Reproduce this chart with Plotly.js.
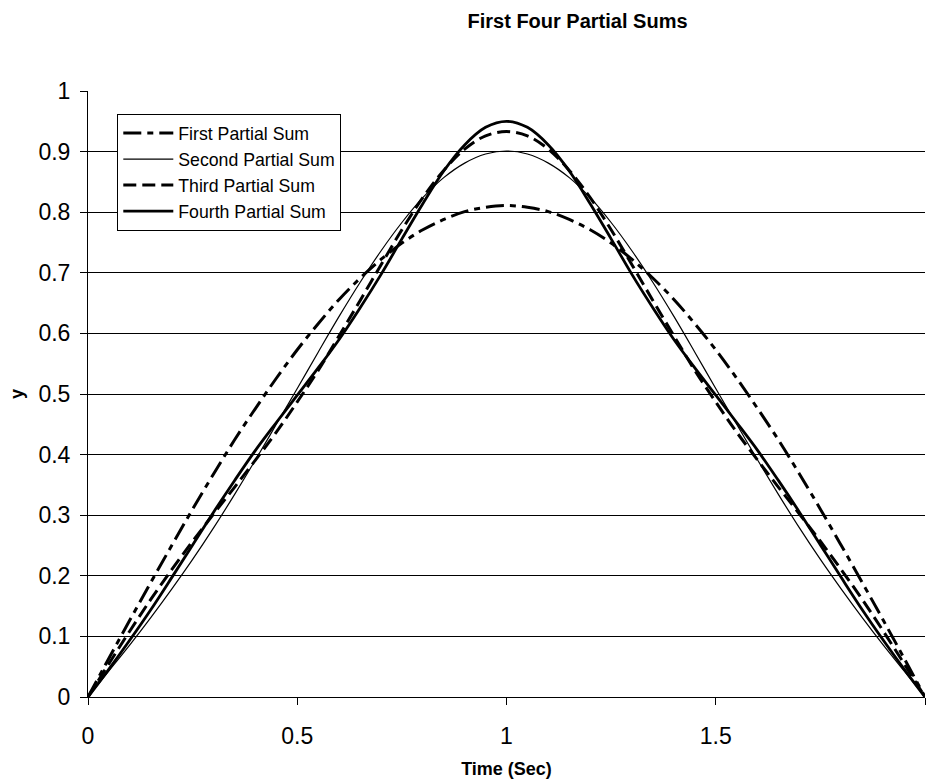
<!DOCTYPE html>
<html>
<head>
<meta charset="utf-8">
<script src="https://cdn.plot.ly/plotly-3.0.1.min.js"></script>
<style>html,body{margin:0;padding:0;background:#fff;}#chart{width:930px;height:780px;}</style>
</head>
<body>
<div id="chart"></div>
<script>
const time = [0,0.05,0.1,0.15,0.2,0.25,0.3,0.35,0.4,0.45,0.5,0.55,0.6,0.65,0.7,0.75,0.8,0.85,0.9,0.95,1,
  1.05,1.1,1.15,1.2,1.25,1.3,1.35,1.4,1.45,1.5,1.55,1.6,1.65,1.7,1.75,1.8,1.85,1.9,1.95,2];

const firstSum = [0,0.064,0.127,0.189,0.250,0.310,0.368,0.424,0.476,0.526,0.573,0.616,0.656,0.691,0.722,0.749,0.771,0.788,0.801,0.808,0.811,
  0.808,0.801,0.788,0.771,0.749,0.722,0.691,0.656,0.616,0.573,0.526,0.476,0.424,0.368,0.310,0.250,0.189,0.127,0.064,0];

const secondSum = [0,0.043,0.086,0.131,0.178,0.227,0.279,0.334,0.391,0.450,0.509,0.569,0.628,0.684,0.736,0.783,0.824,0.857,0.881,0.896,0.901,
  0.896,0.881,0.857,0.824,0.783,0.736,0.684,0.628,0.569,0.509,0.450,0.391,0.334,0.279,0.227,0.178,0.131,0.086,0.043,0];

const thirdSum = [0,0.055,0.109,0.161,0.210,0.257,0.302,0.346,0.391,0.437,0.487,0.539,0.596,0.654,0.713,0.771,0.824,0.869,0.904,0.926,0.933,
  0.926,0.904,0.869,0.824,0.771,0.713,0.654,0.596,0.539,0.487,0.437,0.391,0.346,0.302,0.257,0.210,0.161,0.109,0.055,0];

const fourthSum = [0,0.046,0.094,0.144,0.197,0.251,0.305,0.357,0.407,0.453,0.498,0.543,0.590,0.642,0.697,0.756,0.814,0.868,0.911,0.940,0.950,
  0.940,0.911,0.868,0.814,0.756,0.697,0.642,0.590,0.543,0.498,0.453,0.407,0.357,0.305,0.251,0.197,0.144,0.094,0.046,0];

const seriesNames = ["First Partial Sum","Second Partial Sum","Third Partial Sum","Fourth Partial Sum"];
const yTicks = [0,0.1,0.2,0.3,0.4,0.5,0.6,0.7,0.8,0.9,1];
const xTicks = [0,0.5,1,1.5,2];

const traces = [
  {x: time, y: firstSum, name: seriesNames[0], mode: "lines",
   line: {color: "#000", width: 3, dash: "18px,6px,6px,6px", shape: "spline"}},
  {x: time, y: secondSum, name: seriesNames[1], mode: "lines",
   line: {color: "#000", width: 1.2, shape: "spline"}},
  {x: time, y: thirdSum, name: seriesNames[2], mode: "lines",
   line: {color: "#000", width: 3, dash: "13px,6px", shape: "spline"}},
  {x: time, y: fourthSum, name: seriesNames[3], mode: "lines",
   line: {color: "#000", width: 2.8, shape: "spline"}}
];

const layout = {
  width: 930, height: 780,
  margin: {l: 88, r: 5, t: 91, b: 83},
  paper_bgcolor: "#fff", plot_bgcolor: "#fff",
  font: {family: "Arial, 'Liberation Sans', sans-serif", color: "#000"},
  title: {text: "<b>First Four Partial Sums</b>", font: {size: 20, color: "#000"},
          x: 0.621, xanchor: "center", y: 0.973, yanchor: "middle"},
  showlegend: true,
  legend: {x: 0.035, y: 0.962, xanchor: "left", yanchor: "top",
           bgcolor: "#fff", bordercolor: "#000", borderwidth: 1,
           font: {size: 17.7, color: "#000"}, tracegroupgap: 0, itemwidth: 50},
  xaxis: {
    range: [0, 2], tickvals: xTicks, ticktext: xTicks.map(String),
    showgrid: false, zeroline: false,
    showline: true, linecolor: "#000", linewidth: 1,
    ticks: "outside", ticklen: 7, tickcolor: "#000", ticklabelstandoff: 11,
    tickfont: {size: 23, color: "#000"},
    title: {text: "<b>Time (Sec)</b>", font: {size: 18, color: "#000"}, standoff: 14}
  },
  yaxis: {
    range: [0, 1], tickvals: yTicks, ticktext: yTicks.map(String),
    showgrid: true, gridcolor: "#000", gridwidth: 1, zeroline: false,
    showline: true, linecolor: "#000", linewidth: 1,
    ticks: "outside", ticklen: 7, tickcolor: "#000", ticklabelstandoff: 5,
    tickfont: {size: 23, color: "#000"},
    title: {text: "<b>y</b>", font: {size: 18, color: "#000"}, standoff: 10}
  }
};

Plotly.newPlot("chart", traces, layout, {displayModeBar: false, staticPlot: true});
</script>
</body>
</html>
